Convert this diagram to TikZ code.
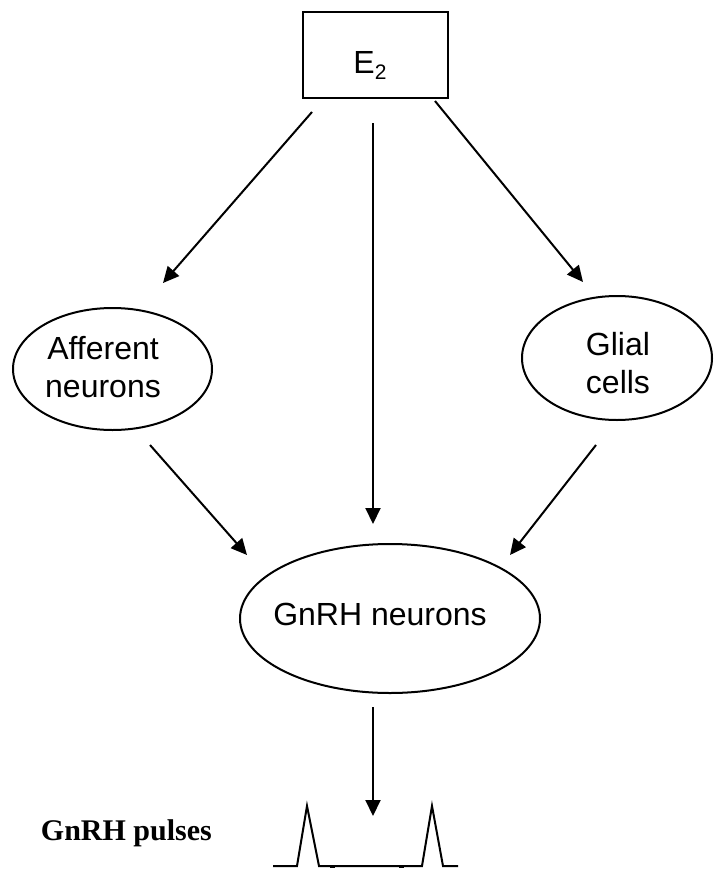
\documentclass[tikz,border=0pt]{standalone}
\usepackage{fontspec}
\setmainfont{Liberation Serif}
\newfontfamily\arialfont{Liberation Sans}
\usetikzlibrary{shapes.geometric,arrows.meta}
\begin{document}
\begin{tikzpicture}[x=1pt,y=-1pt,
  ln/.style={line width=2pt},
  arr/.style={ln,-{Triangle[length=16pt,width=15pt]}},
  ell/.style={ellipse,draw,line width=2pt,inner sep=0pt},
  lab/.style={font=\arialfont\fontsize{32}{38}\selectfont,anchor=base,inner sep=0pt}]
\useasboundingbox (0,0) rectangle (715,870);
% boxes and ellipses
\node[draw,line width=2pt,minimum width=145pt,minimum height=86pt,inner sep=0pt] (e2) at (375.5,55) {};
\node[lab] (e2t) at (370,73) {E\raisebox{-6pt}{\fontsize{21}{21}\selectfont 2}};
\node[ell,minimum width=199pt,minimum height=122pt] (aff) at (112.5,369) {};
\node[lab] (afft1) at (103,359) {Afferent};
\node[lab] (afft2) at (103,397) {neurons};
\node[ell,minimum width=190pt,minimum height=124pt] (gli) at (617,358) {};
\node[lab] (glit1) at (618,355) {Glial};
\node[lab] (glit2) at (618,393) {cells};
\node[ell,minimum width=300pt,minimum height=149pt] (gnrh) at (390,618.5) {};
\node[lab] (gnrht) at (380,625) {GnRH neurons};
% connector end points
\coordinate (a1s) at (312,112);
\coordinate (a1e) at (163,283);
\coordinate (a2s) at (373,123);
\coordinate (a2e) at (373,524);
\coordinate (a3s) at (435,101);
\coordinate (a3e) at (583,282);
\coordinate (a4s) at (150,445);
\coordinate (a4e) at (247,555);
\coordinate (a5s) at (596,445);
\coordinate (a5e) at (510,555);
\coordinate (a6s) at (373,707);
\coordinate (a6e) at (373,816);
\draw[arr] (a1s) -- (a1e);
\draw[arr] (a2s) -- (a2e);
\draw[arr] (a3s) -- (a3e);
\draw[arr] (a4s) -- (a4e);
\draw[arr] (a5s) -- (a5e);
\draw[arr] (a6s) -- (a6e);
% pulses
\draw[ln,line join=miter] (273,866) -- (297,866) -- (307,806) -- (319,866) -- (422,866) -- (432,806) -- (443,866) -- (458,866);
\fill (330,865.5) rectangle (335,867.8);
\fill (399,865.5) rectangle (404,867.8);
\node[font=\bfseries\fontsize{30}{36}\selectfont,anchor=base east,inner sep=0pt] (pl) at (212,840) {GnRH pulses};
\end{tikzpicture}
\end{document}
